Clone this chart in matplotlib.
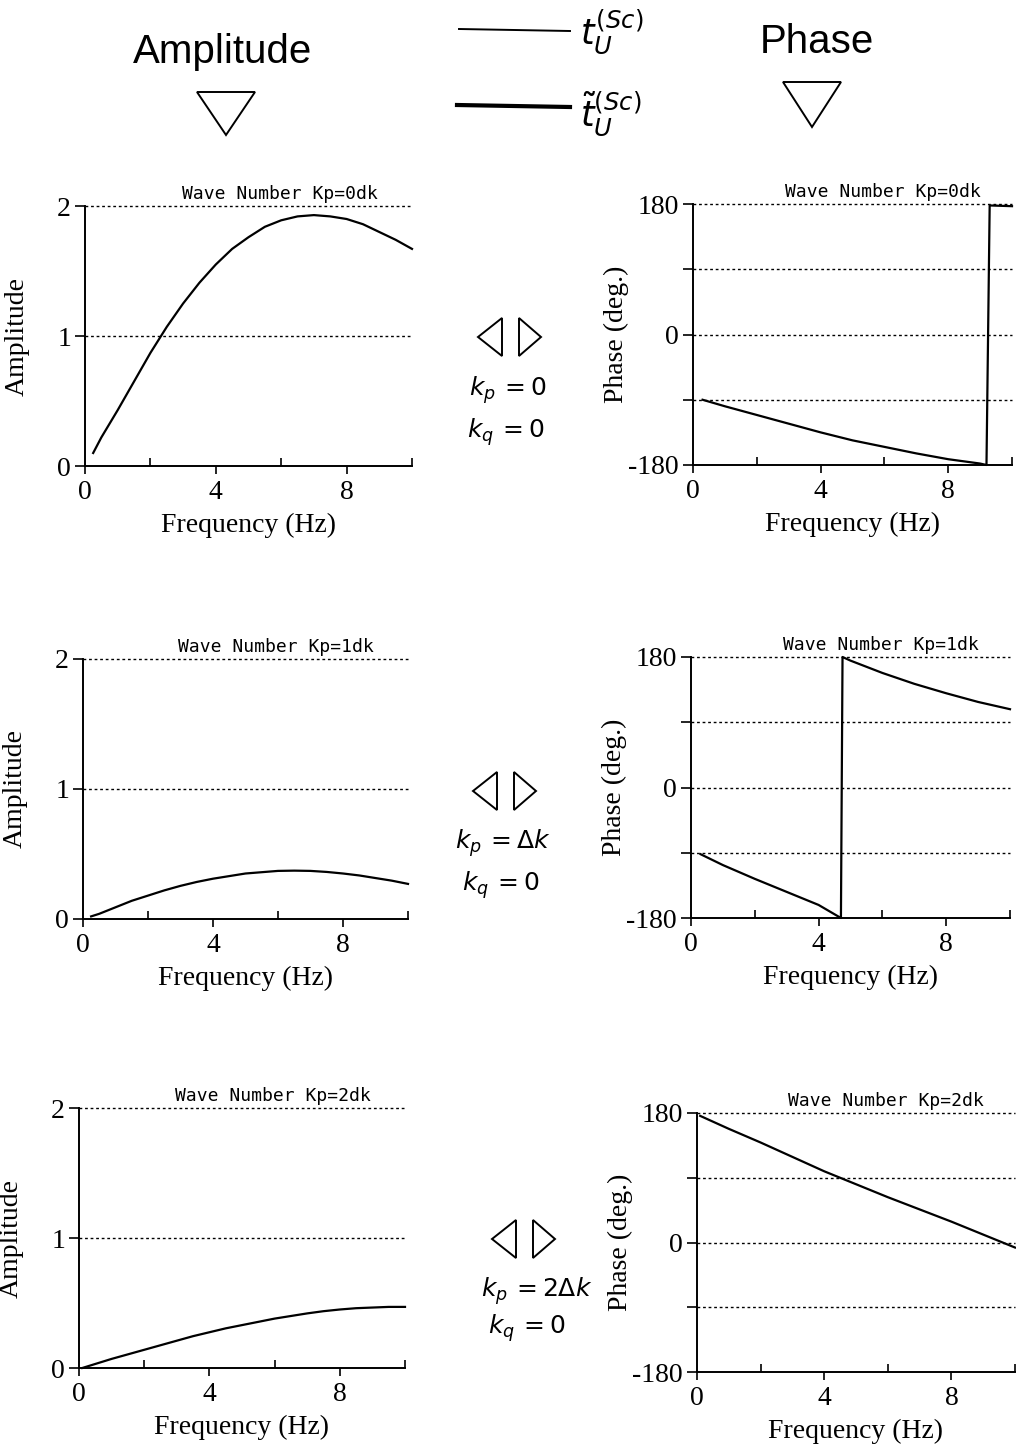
import numpy as np
import matplotlib.pyplot as plt
from matplotlib.patches import Polygon
from matplotlib.lines import Line2D

W, H = 1016, 1445

# amplitude curves
amp_f0 = [0.25, 0.5, 1, 1.5, 2, 2.5, 3, 3.5, 4, 4.5, 5, 5.5, 6, 6.5, 7, 7.5, 8, 8.5, 9, 9.5, 10]
amp_a0 = [0.1, 0.22, 0.43, 0.65, 0.87, 1.07, 1.25, 1.41, 1.55, 1.67, 1.76, 1.84, 1.89, 1.92,
          1.93, 1.92, 1.9, 1.86, 1.8, 1.74, 1.67]
amp_f1 = [0.25, 0.5, 1, 1.5, 2, 2.5, 3, 3.5, 4, 4.5, 5, 5.5, 6, 6.5, 7, 7.5, 8, 8.5, 9, 9.5, 10]
amp_a1 = [0.02, 0.04, 0.09, 0.14, 0.18, 0.22, 0.255, 0.285, 0.31, 0.33, 0.35, 0.36, 0.37, 0.372,
          0.37, 0.362, 0.35, 0.335, 0.315, 0.295, 0.27]
amp_f2 = [0.1, 1, 1.5, 2, 2.5, 3, 3.5, 4, 4.5, 5, 5.5, 6, 6.5, 7, 7.5, 8, 8.5, 9, 9.5, 10]
amp_a2 = [0.0, 0.07, 0.105, 0.14, 0.175, 0.21, 0.245, 0.275, 0.305, 0.33, 0.355, 0.38, 0.4,
          0.42, 0.437, 0.45, 0.46, 0.465, 0.47, 0.47]

# phase curves (deg), wrap points kept as read
ph_f0 = [0.3, 1, 2, 3, 4, 5, 6, 7, 8, 9, 9.2, 9.3, 10]
ph_p0 = [-90, -99, -111, -123, -135, -146, -155, -164, -172, -178, -180, 178, 177]
ph_f1 = [0.3, 1, 2, 3, 4, 4.7, 4.75, 5, 6, 7, 8, 9, 10]
ph_p1 = [-92, -107, -126, -144, -162, -180, 180, 175, 158, 143, 130, 118, 108]
ph_f2 = [0.1, 1, 2, 3, 4, 5, 6, 7, 8, 9, 10]
ph_p2 = [176, 158, 139, 119, 99, 81, 63, 46, 29, 11, -7]

titles = ["Wave Number Kp=0dk", "Wave Number Kp=1dk", "Wave Number Kp=2dk"]
kp_labels = [r"$k_p\,=0$", r"$k_p\,=\Delta k$", r"$k_p\,=2\Delta k$"]
kq_label = r"$k_q\,=0$"

serif = "Liberation Serif"

fig = plt.figure(figsize=(W / 100, H / 100), dpi=100)


def px(x, y):
    return (x / W, 1 - y / H)


def style_axes(ax, ylab, yticks, ylabels, title, lab_x):
    for s in ["top", "right"]:
        ax.spines[s].set_visible(False)
    for s in ["left", "bottom"]:
        ax.spines[s].set_linewidth(1.4)
    ax.set_xlim(0, 10)
    ax.set_xticks([0, 4, 8])
    ax.set_xticks([2, 6, 10], minor=True)
    ax.tick_params(axis="x", which="major", direction="out", length=6, width=1.2,
                   labelsize=20, pad=4)
    ax.tick_params(axis="x", which="minor", direction="in", length=6, width=1.2)
    ax.set_yticks(yticks)
    ax.set_yticklabels(ylabels)
    ax.tick_params(axis="y", direction="out", length=7, width=1.2, labelsize=20, pad=3)
    for lab in ax.get_xticklabels() + ax.get_yticklabels():
        lab.set_fontfamily(serif)
    ax.set_xlabel("Frequency (Hz)", fontsize=20, family=serif)
    ax.xaxis.set_label_coords(0.5, -0.18)
    ax.set_ylabel(ylab, fontsize=20, family=serif)
    ax.yaxis.set_label_coords(lab_x, 0.5)
    ax.text(0.595, 1.01, title, transform=ax.transAxes, ha="center", va="bottom",
            fontsize=13, family="DejaVu Sans Mono")


amp_rects = [(85, 466, 412, 206), (83, 919, 408, 659), (79, 1368, 405, 1108)]
ph_rects = [(693, 465, 1012, 204), (691, 918, 1010, 657), (697, 1372, 1015, 1113)]
amp_data = [(amp_f0, amp_a0), (amp_f1, amp_a1), (amp_f2, amp_a2)]
ph_data = [(ph_f0, ph_p0), (ph_f1, ph_p1), (ph_f2, ph_p2)]

for i in range(3):
    x0, y0, x1, y1 = amp_rects[i]
    ax = fig.add_axes([x0 / W, 1 - y0 / H, (x1 - x0) / W, (y0 - y1) / H])
    ax.set_ylim(0, 2)
    for g in [1, 2]:
        ax.axhline(g, color="black", lw=1.0, ls=(0, (2, 2)), clip_on=False)
    ax.plot(amp_data[i][0], amp_data[i][1], color="black", lw=1.6, clip_on=False)
    style_axes(ax, "Amplitude", [0, 1, 2], ["0", "1", "2"], titles[i], -0.17)

    x0, y0, x1, y1 = ph_rects[i]
    ax = fig.add_axes([x0 / W, 1 - y0 / H, (x1 - x0) / W, (y0 - y1) / H])
    ax.set_ylim(-180, 180)
    for g in [-90, 0, 90, 180]:
        ax.axhline(g, color="black", lw=1.0, ls=(0, (2, 2)), clip_on=False)
    ax.plot(ph_data[i][0], ph_data[i][1], color="black", lw=1.6, clip_on=False)
    style_axes(ax, "Phase (deg.)", [-180, -90, 0, 90, 180],
               ["-180", "", "0", "", "180"], titles[i], -0.2)

# headers with down triangles
fig.text(*px(223, 52), "Amplitude", fontsize=29, family="Liberation Sans",
         ha="center", va="center")
fig.text(*px(817, 42), "Phase", fontsize=29, family="Liberation Sans",
         ha="center", va="center")
for pts in [[(197, 92), (255, 92), (226, 135)], [(783, 82), (841, 82), (812, 127)]]:
    fig.add_artist(Polygon([px(*p) for p in pts], closed=True, fill=False,
                           ec="black", lw=1.4, transform=fig.transFigure))

# legend
fig.add_artist(Line2D([459 / W, 570 / W], [1 - 29 / H, 1 - 31 / H], color="black",
                      lw=1.4, transform=fig.transFigure))
fig.add_artist(Line2D([457 / W, 570 / W], [1 - 105 / H, 1 - 107 / H], color="black",
                      lw=3.0, transform=fig.transFigure))
fig.text(*px(580, 32), r"$t_U^{(Sc)}$", fontsize=25, ha="left", va="center")
fig.text(*px(580, 114), r"$\tilde{t}_U^{(Sc)}$", fontsize=25, ha="left", va="center")

# centre markers and wave number labels
centres = [(509, 337), (504, 791), (523, 1239)]
kp_pos = [(508, 390), (503, 843), (537, 1291)]
kq_pos = [(506, 432), (501, 885), (527, 1328)]
for (cx, cy), kp, kq, lab in zip(centres, kp_pos, kq_pos, kp_labels):
    left = [(cx - 31, cy), (cx - 7, cy - 19), (cx - 7, cy + 19)]
    right = [(cx + 10, cy - 19), (cx + 32, cy), (cx + 10, cy + 19)]
    for pts in [left, right]:
        fig.add_artist(Polygon([px(*p) for p in pts], closed=True, fill=False,
                               ec="black", lw=1.4, transform=fig.transFigure))
    fig.text(*px(*kp), lab, fontsize=18, ha="center", va="center")
    fig.text(*px(*kq), kq_label, fontsize=18, ha="center", va="center")

fig.savefig("out.png", dpi=100)
